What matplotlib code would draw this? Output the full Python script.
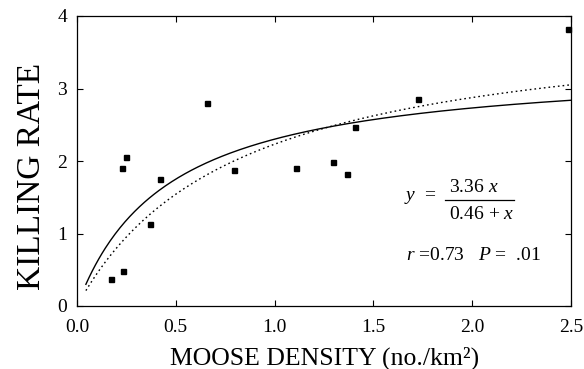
import numpy as np
import matplotlib
matplotlib.use("Agg")
import matplotlib.pyplot as plt
from matplotlib.lines import Line2D

plt.rcParams['font.family'] = ['Liberation Serif', 'DejaVu Serif']
plt.rcParams['mathtext.fontset'] = 'custom'
plt.rcParams['mathtext.rm'] = 'Liberation Serif'
plt.rcParams['mathtext.it'] = 'Liberation Serif:italic'

# Data
moose_density = [0.171, 0.228, 0.249, 0.232, 0.371, 0.420, 0.657, 0.796,
                 1.106, 1.295, 1.366, 1.406, 1.727, 2.484]
killing_rate = [0.37, 1.90, 2.05, 0.48, 1.13, 1.75, 2.80, 1.87,
                1.90, 1.98, 1.82, 2.47, 2.86, 3.82]

# Fitted curves y = a x / (b + x)
solid_a, solid_b = 3.36, 0.46
dotted_a, dotted_b = 4.04, 0.81
curve_start = 0.045

x_ticks = [0.0, 0.5, 1.0, 1.5, 2.0, 2.5]
x_ticklabels = ['0.0', '0.5', '1.0', '1.5', '2.0', '2.5']
y_ticks = [0, 1, 2, 3, 4]
y_ticklabels = ['0', '1', '2', '3', '4']

W, H = 584, 369
fig = plt.figure(figsize=(W / 100, H / 100), dpi=100)
L, R, T, B = 77, 571, 16, 306
ax = fig.add_axes([L / W, 1 - B / H, (R - L) / W, (B - T) / H])

xs = np.linspace(curve_start, 2.5, 300)
ax.plot(xs, solid_a * xs / (solid_b + xs), color='black', lw=1.0)
ax.plot(xs, dotted_a * xs / (dotted_b + xs), color='black', lw=1.0,
        linestyle=(0, (1.2, 2.2)))
ax.plot(moose_density, killing_rate, 's', color='black', markersize=3.6,
        clip_on=False)

ax.set_xlim(0, 2.5)
ax.set_ylim(0, 4)
ax.set_xticks(x_ticks)
ax.set_xticklabels(x_ticklabels)
ax.set_yticks(y_ticks)
ax.set_yticklabels(y_ticklabels)
ax.tick_params(direction='in', length=4, width=0.8, top=True, right=True,
               labelsize=14)
ax.tick_params(axis='x', pad=9)
ax.tick_params(axis='y', pad=7)
for s in ax.spines.values():
    s.set_linewidth(0.9)

fig.text(32 / W, 1 - 176 / H, 'KILLING RATE', rotation=90, ha='center',
         va='center', fontsize=24)
fig.text(325 / W, 1 - 365 / H, 'MOOSE DENSITY (no./km\u00b2)', ha='center',
         va='baseline', fontsize=18.5)

def fx(px):
    return px / W

def fy(py):
    return 1 - py / H

fig.text(fx(420), fy(197), '$y$  =', ha='center', va='center', fontsize=14)
fig.text(fx(474), fy(187), '3.36 $x$', ha='center', va='center', fontsize=14)
fig.add_artist(Line2D([fx(445), fx(514)], [fy(200), fy(200)], color='black',
                      lw=0.9, transform=fig.transFigure))
fig.text(fx(482), fy(214), '0.46 + $x$', ha='center', va='center', fontsize=14)
fig.text(fx(406), fy(256), '$r$ =0.73   $P$ =  .01', ha='left', va='center',
         fontsize=14)

fig.savefig('out.png', dpi=100)
